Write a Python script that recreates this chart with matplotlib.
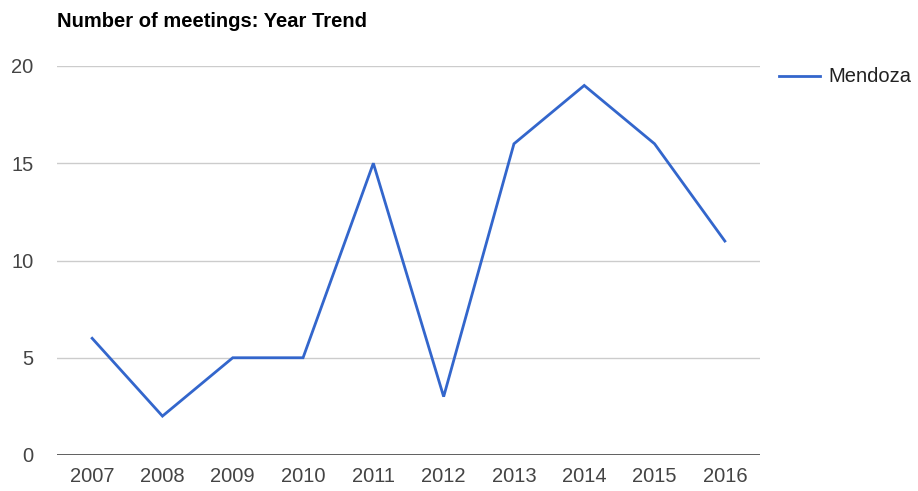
import matplotlib
matplotlib.use("Agg")
import matplotlib.pyplot as plt

years = ["2007", "2008", "2009", "2010", "2011", "2012", "2013", "2014", "2015", "2016"]
meetings = [6, 2, 5, 5, 15, 3, 16, 19, 16, 11]
series_name = "Mendoza"
title = "Number of meetings: Year Trend"
y_ticks = [0, 5, 10, 15, 20]

plt.rcParams["font.family"] = ["Liberation Sans", "DejaVu Sans"]

W, H = 918, 491
fig = plt.figure(figsize=(W / 100, H / 100), dpi=100)
ax = fig.add_axes([57 / W, 1 - 455 / H, (760 - 57) / W, (455 - 66) / H])

x = list(range(len(years)))
ax.plot(x, meetings, color="#3366cc", lw=2.0, label=series_name,
        solid_joinstyle="miter")

ax.set_xlim(-0.5, len(years) - 0.5)
ax.set_ylim(0, 20)
ax.set_xticks(x)
ax.set_xticklabels(years)
ax.set_yticks(y_ticks)
for yv in y_ticks[1:]:
    ax.axhline(yv, color="#cccccc", lw=1.0, zorder=0)
ax.axhline(0, color="#444444", lw=1.2, zorder=1)

for s in ax.spines.values():
    s.set_visible(False)
ax.tick_params(axis="both", length=0, labelsize=14.5, colors="#444444")
ax.tick_params(axis="x", pad=8.5)
ax.tick_params(axis="y", pad=17)

fig.text(57 / W, 1 - 21.5 / H, title, fontsize=14.5, fontweight="bold",
         color="#000000", va="center", ha="left")

# legend
fig.add_artist(plt.Line2D([779 / W, 820 / W], [1 - 75.5 / H, 1 - 75.5 / H],
                          color="#3366cc", lw=2.0))
fig.text(828 / W, 1 - 76 / H, series_name, fontsize=14.5, color="#222222",
         va="center", ha="left")

fig.savefig("out.png", dpi=100)
